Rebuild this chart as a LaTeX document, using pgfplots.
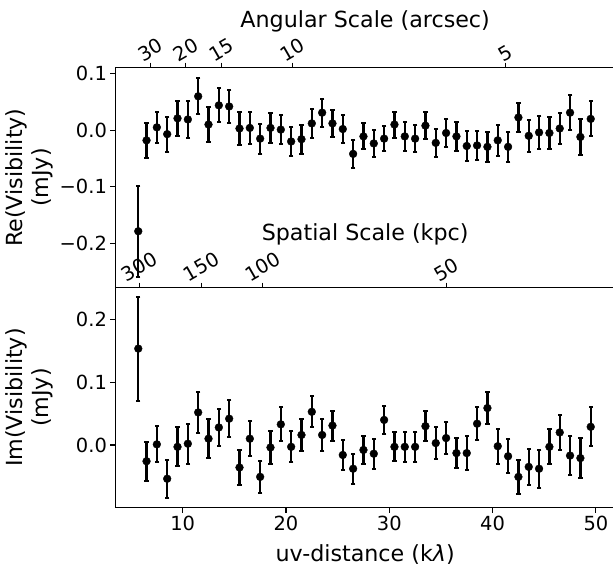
\documentclass[border=0pt]{standalone}
\usepackage{fontspec}
\setmainfont{DejaVu Sans}
\usepackage{graphicx}
\usepackage{pgfplots}
\usepackage{pgfplotstable}
\pgfplotsset{compat=1.18}
\newcommand\tfs{\fontsize{19.44bp}{23.3bp}\selectfont}
\newcommand\lfs{\fontsize{22.2bp}{26.6bp}\selectfont}
\newcommand\rt[1]{\rotatebox{30}{#1}}

\pgfplotstableread{
x y e
5.7 -0.179 0.081
6.5 -0.018 0.0315
7.5 0.005 0.028
8.5 -0.007 0.031
9.5 0.021 0.0315
10.5 0.019 0.032
11.5 0.060 0.032
12.5 0.010 0.031
13.5 0.044 0.030
14.5 0.042 0.0295
15.5 0.003 0.0285
16.5 0.004 0.028
17.5 -0.015 0.0265
18.5 0.004 0.027
19.5 0.001 0.026
20.5 -0.020 0.0265
21.5 -0.016 0.026
22.5 0.012 0.025
23.5 0.031 0.025
24.5 0.012 0.024
25.5 0.002 0.0245
26.5 -0.042 0.0245
27.5 -0.011 0.023
28.5 -0.0235 0.0245
29.5 -0.015 0.0227
30.5 0.010 0.023
31.5 -0.011 0.025
32.5 -0.015 0.024
33.5 0.008 0.0236
34.5 -0.0225 0.025
35.5 -0.005 0.025
36.5 -0.011 0.025
37.5 -0.028 0.026
38.5 -0.027 0.025
39.5 -0.0295 0.026
40.5 -0.018 0.0275
41.5 -0.0295 0.027
42.5 0.0225 0.0265
43.5 -0.010 0.028
44.5 -0.004 0.0298
45.5 -0.005 0.029
46.5 0.003 0.028
47.5 0.031 0.0315
48.5 -0.012 0.032
49.5 0.020 0.031
}\redata

\pgfplotstableread{
x y e
5.7 0.154 0.083
6.5 -0.026 0.031
7.5 0.001 0.029
8.5 -0.054 0.030
9.5 -0.003 0.031
10.5 0.002 0.032
11.5 0.052 0.033
12.5 0.010 0.031
13.5 0.028 0.030
14.5 0.042 0.030
15.5 -0.036 0.028
16.5 0.010 0.028
17.5 -0.051 0.026
18.5 -0.004 0.026
19.5 0.033 0.027
20.5 -0.003 0.025
21.5 0.016 0.025
22.5 0.053 0.025
23.5 0.016 0.025
24.5 0.031 0.024
25.5 -0.016 0.024
26.5 -0.038 0.024
27.5 -0.008 0.023
28.5 -0.014 0.024
29.5 0.040 0.023
30.5 -0.003 0.023
31.5 -0.003 0.024
32.5 -0.003 0.024
33.5 0.030 0.024
34.5 0.003 0.025
35.5 0.011 0.025
36.5 -0.013 0.024
37.5 -0.013 0.027
38.5 0.034 0.026
39.5 0.059 0.026
40.5 -0.002 0.028
41.5 -0.018 0.027
42.5 -0.051 0.027
43.5 -0.035 0.029
44.5 -0.038 0.030
45.5 -0.003 0.028
46.5 0.020 0.028
47.5 -0.017 0.031
48.5 -0.021 0.032
49.5 0.029 0.031
}\imdata

\pgfplotsset{
  base/.style={scale only axis, width=499.7bp, height=220.2bp,
    xmin=3.477, xmax=51.85,
    axis line style={line width=1.1bp, black},
    tick style={line width=1.1bp, black},
    tick align=outside, major tick length=4.9bp,
    tick label style={font=\tfs},
    /pgf/number format/assume math mode=true,
    label style={font=\lfs}},
  data/.style={black, only marks, mark=*, mark size=3.9bp,
    error bars/.cd, y dir=both, y explicit, error mark=none,
    error bar style={line width=2.3bp, black}},
  caps/.style={black, only marks, mark=-, mark size=2.2bp,
    mark options={line width=2bp}},
}

\begin{document}
\begin{tikzpicture}
% ---------- bottom panel ----------
\begin{axis}[base, at={(115.3bp,-507.7bp)}, anchor=south west,
  ymin=-0.1003, ymax=0.2517,
  ytick={0,0.1,0.2}, yticklabels={0.0,0.1,0.2},
  xtick={10,20,30,40,50}, xticklabels={10,20,30,40,50},
  xtick pos=bottom, ytick pos=left,
  ylabel={Im(Visibility)\\(mJy)},
  ylabel style={align=center, inner sep=0pt, at={(axis description cs:-0.1237,0.5)}, anchor=south},
  xlabel={uv-distance (k{\itshape λ})},
  xlabel style={inner sep=0pt, at={(axis description cs:0.5,-0.2455)}, anchor=base},
]
\addplot[data] table[x=x, y=y, y error=e] {\imdata};
\addplot[caps] table[x=x, y expr=\thisrow{y}+\thisrow{e}] {\imdata};
\addplot[caps] table[x=x, y expr=\thisrow{y}-\thisrow{e}] {\imdata};
\end{axis}
\begin{axis}[base, at={(115.3bp,-507.7bp)}, anchor=south west,
  ymin=-0.1003, ymax=0.2517,
  axis x line*=top, axis y line=none, ytick=\empty,
  xtick={5.80,11.82,17.74,35.53},
  xticklabels={\rt{300},\rt{150},\rt{100},\rt{50}},
  xticklabel style={anchor=south, inner sep=0pt},
  xlabel={Spatial Scale (kpc)},
  xlabel style={inner sep=0pt, at={(axis description cs:0.5,1.2136)}, anchor=base},
]
\end{axis}
% ---------- top panel ----------
\begin{axis}[base, at={(115.3bp,-287.7bp)}, anchor=south west,
  ymin=-0.279, ymax=0.111,
  ytick={-0.2,-0.1,0,0.1}, yticklabels={−0.2,−0.1,0.0,0.1},
  xtick=\empty, ytick pos=left,
  ylabel={Re(Visibility)\\(mJy)},
  ylabel style={align=center, inner sep=0pt, at={(axis description cs:-0.1237,0.5)}, anchor=south},
]
\addplot[data] table[x=x, y=y, y error=e] {\redata};
\addplot[caps] table[x=x, y expr=\thisrow{y}+\thisrow{e}] {\redata};
\addplot[caps] table[x=x, y expr=\thisrow{y}-\thisrow{e}] {\redata};
\end{axis}
\begin{axis}[base, at={(115.3bp,-287.7bp)}, anchor=south west,
  ymin=-0.279, ymax=0.111,
  axis x line*=top, axis y line=none, ytick=\empty,
  xtick={6.876,10.313,13.751,20.627,41.253},
  xticklabels={\rt{30},\rt{20},\rt{15},\rt{10},\rt{5}},
  xticklabel style={anchor=south, inner sep=0pt},
  xlabel={Angular Scale (arcsec)},
  xlabel style={inner sep=0pt, at={(axis description cs:0.5,1.183)}, anchor=base},
]
\end{axis}
\pgfresetboundingbox
\useasboundingbox (0bp,0bp) rectangle (613bp,-569bp);
\end{tikzpicture}
\end{document}
